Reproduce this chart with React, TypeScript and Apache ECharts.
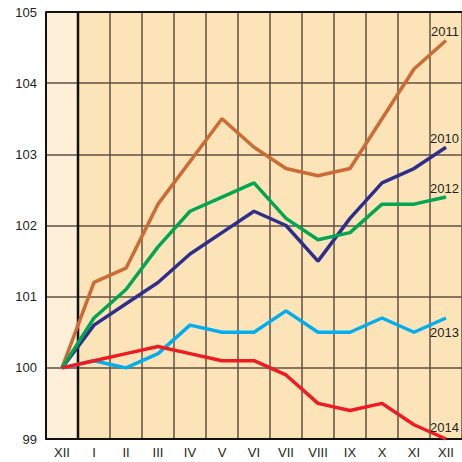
import React, { useEffect, useRef } from "react";
import * as echarts from "echarts";

const months = ["XII", "I", "II", "III", "IV", "V", "VI", "VII", "VIII", "IX", "X", "XI", "XII"];
const yTicks = [99, 100, 101, 102, 103, 104, 105];

const s2010 = [100, 100.6, 100.9, 101.2, 101.6, 101.9, 102.2, 102.0, 101.5, 102.1, 102.6, 102.8, 103.1];
const s2011 = [100, 101.2, 101.4, 102.3, 102.9, 103.5, 103.1, 102.8, 102.7, 102.8, 103.5, 104.2, 104.6];
const s2012 = [100, 100.7, 101.1, 101.7, 102.2, 102.4, 102.6, 102.1, 101.8, 101.9, 102.3, 102.3, 102.4];
const s2013 = [100, 100.1, 100.0, 100.2, 100.6, 100.5, 100.5, 100.8, 100.5, 100.5, 100.7, 100.5, 100.7];
const s2014 = [100, 100.1, 100.2, 100.3, 100.2, 100.1, 100.1, 99.9, 99.5, 99.4, 99.5, 99.2, 99.0];

const seriesDefs = [
  { name: "2011", data: s2011, color: "#CD6B35", below: false, dy: -2 },
  { name: "2010", data: s2010, color: "#2E2F8C", below: false, dy: -2 },
  { name: "2012", data: s2012, color: "#00A650", below: false, dy: -2 },
  { name: "2013", data: s2013, color: "#00AEEF", below: true, dy: 8 },
  { name: "2014", data: s2014, color: "#ED1C24", below: false, dy: -5 },
];

export default function App() {
  const ref = useRef<HTMLDivElement>(null);
  useEffect(() => {
    if (!ref.current) return;
    const chart = echarts.init(ref.current, undefined, { renderer: "svg" });
    const yMin = yTicks[0];
    const yMax = yTicks[yTicks.length - 1];
    const lineSeries = seriesDefs.map((s) => ({
      type: "line",
      name: s.name,
      symbol: "none",
      z: 3,
      clip: false,
      lineStyle: { color: s.color, width: 3.5 },
      endLabel: {
        show: true,
        formatter: "{a}",
        distance: 0,
        align: "right",
        verticalAlign: s.below ? "top" : "bottom",
        offset: [13, s.dy],
        fontFamily: "Liberation Sans, Arial, sans-serif",
        fontSize: 13,
        color: "#231F20",
      },
      data: s.data,
    }));
    chart.setOption({
      animation: false,
      grid: { left: 46, right: 0, top: 12, bottom: 23, containLabel: false },
      xAxis: {
        type: "category",
        data: months,
        boundaryGap: true,
        axisLine: { show: true, lineStyle: { color: "#111", width: 2 } },
        axisTick: { show: false },
        axisLabel: {
          interval: 0,
          margin: 7,
          fontFamily: "Liberation Sans, Arial, sans-serif",
          fontSize: 13,
          color: "#231F20",
        },
        splitLine: { show: true, interval: 0, lineStyle: { color: "#5E5142", width: 1.5 } },
      },
      yAxis: {
        type: "value",
        min: yMin,
        max: yMax,
        interval: 1,
        axisLine: { show: true, lineStyle: { color: "#111", width: 2 } },
        axisTick: { show: false },
        axisLabel: {
          margin: 9,
          fontFamily: "Liberation Sans, Arial, sans-serif",
          fontSize: 13,
          color: "#231F20",
        },
        splitLine: { show: true, lineStyle: { color: "#5E5142", width: 1.5 } },
      },
      series: [
        {
          type: "custom",
          z: -1,
          silent: true,
          data: months.map((_, i) => [i]),
          renderItem: (params: any, api: any) => {
            const i = api.value(0);
            const top = api.coord([i, yMax]);
            const bot = api.coord([i, yMin]);
            const w = api.size([1, 0])[0];
            return {
              type: "rect",
              shape: { x: top[0] - w / 2, y: top[1], width: w, height: bot[1] - top[1] },
              style: { fill: i === 0 ? "#FEEFD9" : "#FDE4B8" },
            };
          },
        },
        {
          type: "custom",
          z: 2,
          silent: true,
          data: [[0]],
          renderItem: (params: any, api: any) => {
            const top = api.coord([0, yMax]);
            const bot = api.coord([0, yMin]);
            const w = api.size([1, 0])[0];
            const x = top[0] + w / 2;
            return {
              type: "line",
              shape: { x1: x, y1: top[1], x2: x, y2: bot[1] },
              style: { stroke: "#111", lineWidth: 2.5 },
            };
          },
        },
        {
          type: "custom",
          z: 2,
          silent: true,
          data: [[0]],
          renderItem: (params: any, api: any) => {
            const p = api.coord([0, yMax]);
            const w = api.size([1, 0])[0];
            return {
              type: "line",
              shape: { x1: p[0] - w / 2, y1: p[1], x2: 462, y2: p[1] },
              style: { stroke: "#111", lineWidth: 2 },
            };
          },
        },
        ...lineSeries,
      ],
    });
    return () => chart.dispose();
  }, []);
  return <div ref={ref} style={{ width: 462, height: 462, position: "absolute", left: 0, top: 0 }} />;
}
